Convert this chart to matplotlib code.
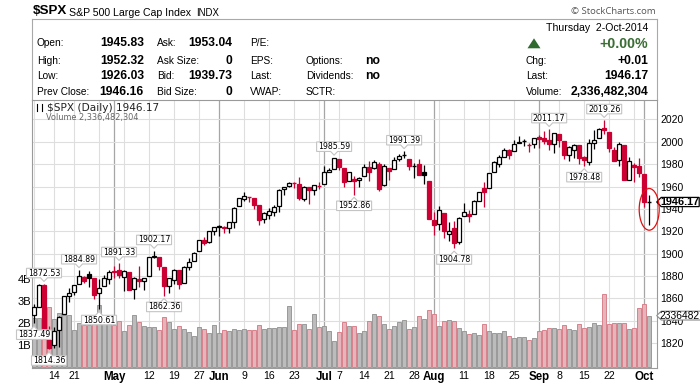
import matplotlib
matplotlib.use("Agg")
import matplotlib.pyplot as plt
import matplotlib.transforms as mtrans
from matplotlib.patches import Rectangle, Polygon, Ellipse
from matplotlib.lines import Line2D
import pandas as pd

plt.rcParams['font.family'] = ['Liberation Sans', 'DejaVu Sans']

# ---------------- data ----------------
holidays = ["2014-04-18", "2014-05-26", "2014-07-04", "2014-09-01"]
dates = [d for d in pd.bdate_range("2014-04-08", "2014-10-02")
         if d.strftime("%Y-%m-%d") not in holidays]

opens = [1845.48, 1852.64, 1872.28, 1830.65, 1818.18, 1831.45, 1846.01, 1861.73, 1865.79, 1872.57,
         1879.32, 1881.97, 1877.72, 1865.00, 1870.78, 1877.10, 1884.39, 1885.30, 1879.45, 1883.69,
         1868.53, 1877.39, 1875.27, 1880.03, 1896.75, 1897.13, 1888.16, 1871.19, 1876.66, 1884.88,
         1873.34, 1888.19, 1893.32, 1902.01, 1911.77, 1910.60, 1920.33, 1923.87, 1923.07, 1923.06,
         1928.52, 1942.41, 1948.97, 1950.34, 1949.37, 1943.35, 1930.80, 1934.84, 1937.15, 1942.73,
         1957.50, 1960.45, 1962.92, 1961.97, 1949.27, 1959.89, 1956.56, 1960.79, 1962.29, 1973.06,
         1975.88, 1984.22, 1976.39, 1965.10, 1966.67, 1965.76, 1969.86, 1977.36, 1976.35, 1979.75,
         1961.54, 1976.93, 1975.65, 1984.30, 1988.07, 1984.60, 1978.25, 1980.03, 1973.21, 1965.14,
         1929.80, 1926.62, 1936.34, 1917.29, 1923.03, 1910.35, 1933.43, 1935.73, 1935.60, 1947.41,
         1958.87, 1958.36, 1972.73, 1980.46, 1986.82, 1992.60, 1991.74, 1998.59, 2000.54, 1997.42,
         1998.45, 2004.07, 2003.57, 2001.67, 1998.00, 2007.17, 2000.73, 1988.41, 1992.85, 1996.74,
         1986.04, 1981.93, 1999.30, 2003.07, 2012.74, 2009.08, 1992.78, 1983.34, 1997.32, 1966.22,
         1978.96, 1978.21, 1971.44, 1945.83]
highs = [1854.95, 1872.53, 1872.53, 1835.07, 1834.19, 1844.02, 1862.31, 1869.63, 1871.89, 1884.89,
         1879.75, 1884.06, 1877.72, 1877.01, 1880.60, 1885.20, 1888.59, 1891.33, 1885.51, 1883.69,
         1878.83, 1889.07, 1878.57, 1897.13, 1902.17, 1897.13, 1888.16, 1878.28, 1886.00, 1884.88,
         1888.80, 1896.33, 1901.26, 1912.28, 1914.46, 1920.03, 1924.03, 1925.88, 1925.07, 1928.63,
         1941.74, 1949.44, 1955.55, 1950.86, 1949.37, 1943.35, 1937.30, 1941.15, 1943.69, 1957.74,
         1959.87, 1963.91, 1963.74, 1968.17, 1960.83, 1959.89, 1961.47, 1964.24, 1978.58, 1976.67,
         1985.59, 1984.22, 1976.39, 1972.83, 1969.84, 1968.67, 1979.85, 1982.52, 1983.94, 1981.80,
         1979.91, 1976.93, 1986.24, 1989.23, 1991.39, 1984.60, 1981.52, 1984.85, 1978.90, 1965.14,
         1937.35, 1942.92, 1936.34, 1927.91, 1928.89, 1932.38, 1944.90, 1939.20, 1948.41, 1955.23,
         1964.04, 1971.99, 1982.57, 1988.57, 1994.76, 1993.54, 2001.95, 2005.04, 2002.14, 1998.55,
         2003.38, 2006.12, 2009.28, 2011.17, 2007.71, 2007.17, 2001.01, 1996.66, 1997.65, 1996.74,
         1987.18, 2002.28, 2010.74, 2012.34, 2019.26, 2009.08, 1995.41, 1999.79, 1997.32, 1986.37,
         1981.28, 1985.17, 1971.44, 1952.32]
lows = [1837.49, 1852.38, 1833.08, 1814.36, 1815.80, 1816.29, 1846.01, 1856.72, 1863.18, 1872.57,
        1873.91, 1870.24, 1859.70, 1850.61, 1870.78, 1872.69, 1878.04, 1878.50, 1866.77, 1867.72,
        1859.79, 1870.05, 1867.02, 1880.03, 1896.06, 1885.77, 1862.36, 1864.82, 1872.42, 1868.14,
        1873.34, 1885.39, 1893.32, 1902.01, 1907.30, 1909.82, 1916.64, 1915.98, 1918.79, 1918.60,
        1922.93, 1942.41, 1947.16, 1946.08, 1940.08, 1925.78, 1927.62, 1930.91, 1933.55, 1936.86,
        1952.26, 1959.17, 1958.89, 1948.34, 1947.49, 1944.69, 1952.18, 1958.22, 1962.29, 1972.58,
        1975.88, 1974.88, 1959.46, 1965.10, 1952.86, 1959.63, 1969.86, 1965.34, 1975.67, 1955.59,
        1960.82, 1965.77, 1975.65, 1982.44, 1985.79, 1974.37, 1967.31, 1969.95, 1962.42, 1930.67,
        1916.37, 1921.20, 1913.77, 1911.45, 1904.78, 1909.01, 1933.43, 1928.29, 1935.60, 1947.41,
        1941.50, 1958.36, 1972.73, 1977.68, 1986.82, 1984.76, 1991.74, 1998.59, 1996.20, 1990.52,
        1994.65, 1994.85, 1998.14, 1992.44, 1990.10, 1995.60, 1984.61, 1982.99, 1985.93, 1980.26,
        1978.48, 1979.06, 1993.29, 2003.07, 2006.59, 1991.01, 1982.77, 1978.63, 1965.99, 1966.22,
        1964.04, 1968.96, 1941.72, 1926.03]
closes = [1851.96, 1872.18, 1833.08, 1815.69, 1830.61, 1842.98, 1862.31, 1864.85, 1871.89, 1879.55,
          1875.39, 1878.61, 1863.40, 1869.43, 1878.33, 1883.95, 1883.68, 1881.14, 1884.66, 1867.72,
          1878.21, 1875.63, 1878.48, 1896.65, 1897.45, 1888.53, 1870.85, 1877.86, 1885.08, 1872.83,
          1888.03, 1892.49, 1900.53, 1911.91, 1909.78, 1920.03, 1923.57, 1924.97, 1924.24, 1927.88,
          1940.46, 1949.44, 1951.27, 1950.79, 1943.89, 1930.11, 1936.16, 1937.78, 1941.99, 1956.98,
          1959.48, 1962.87, 1962.61, 1949.98, 1959.53, 1957.22, 1960.96, 1960.23, 1973.32, 1974.62,
          1985.44, 1977.65, 1963.71, 1972.83, 1964.68, 1967.57, 1977.10, 1973.28, 1981.57, 1958.12,
          1978.22, 1973.63, 1983.53, 1987.01, 1987.98, 1978.34, 1978.91, 1969.95, 1970.07, 1930.67,
          1925.15, 1938.99, 1920.21, 1920.24, 1909.57, 1931.59, 1936.92, 1933.75, 1946.72, 1955.18,
          1955.06, 1971.74, 1981.60, 1986.51, 1992.37, 1988.40, 1997.92, 2000.02, 2000.12, 1996.74,
          2003.37, 2002.28, 2000.72, 1997.65, 2007.71, 2001.54, 1988.44, 1995.69, 1997.45, 1985.54,
          1984.13, 1998.98, 2001.57, 2011.36, 2010.40, 1994.29, 1982.77, 1998.30, 1965.99, 1982.85,
          1977.80, 1972.29, 1946.16, 1946.17]
prev_close_before_first = 1845.04

volume_bn = [2.24, 2.24, 2.75, 2.75, 2.20, 2.45, 2.36, 2.36, 1.70, 2.00,
             1.90, 1.90, 2.00, 2.80, 2.00, 2.00, 1.90, 2.10, 1.65, 1.90,
             2.35, 2.06, 1.86, 1.83, 1.80, 1.68, 2.29, 2.06, 1.71, 1.86,
             1.71, 1.60, 1.41, 1.83, 1.71, 1.56, 1.91, 1.53, 1.68, 1.62,
             1.74, 1.68, 1.71, 1.68, 1.68, 1.91, 1.71, 1.76, 1.76, 1.83,
             1.80, 2.77, 1.68, 1.95, 1.95, 1.71, 2.41, 1.80, 1.86, 1.65,
             1.20, 1.59, 2.05, 1.85, 1.85, 1.53, 1.65, 2.10, 2.40, 2.33,
             1.94, 1.71, 1.86, 2.03, 2.12, 1.71, 1.83, 2.30, 2.17, 2.58,
             2.40, 1.86, 2.10, 2.15, 2.10, 1.76, 1.65, 1.48, 1.55, 1.44,
             1.95, 1.65, 1.53, 1.53, 1.65, 1.41, 1.30, 1.35, 1.35, 1.23,
             1.30, 1.65, 1.68, 1.76, 1.76, 1.71, 1.91, 1.71, 1.68, 1.95,
             1.76, 1.83, 1.98, 1.91, 3.32, 1.95, 1.98, 1.98, 1.98, 1.71,
             1.76, 2.67, 2.86, 2.336482304]
last_volume = 2336482304
ask_price, bid_price = 1953.04, 1939.73

tick_dates = ["2014-04-14", "2014-04-21", "2014-05-01", "2014-05-12", "2014-05-19", "2014-05-27",
              "2014-06-02", "2014-06-09", "2014-06-16", "2014-06-23", "2014-07-01", "2014-07-07",
              "2014-07-14", "2014-07-21", "2014-07-28", "2014-08-01", "2014-08-11", "2014-08-18",
              "2014-08-25", "2014-09-02", "2014-09-08", "2014-09-15", "2014-09-22", "2014-10-01"]
tick_labels = ["14", "21", "May", "12", "19", "27", "Jun", "9", "16", "23", "Jul", "7",
               "14", "21", "28", "Aug", "11", "18", "25", "Sep", "8", "15", "22", "Oct"]
month_names = ["May", "Jun", "Jul", "Aug", "Sep", "Oct"]

price_ticks = [1820, 1840, 1860, 1880, 1900, 1920, 1940, 1960, 1980, 2000, 2020]
volume_ticks = [1, 2, 3, 4]
volume_tick_labels = ["1B", "2B", "3B", "4B"]

high_labels = ["2014-04-10", "2014-04-22", "2014-05-02", "2014-05-13", "2014-07-03",
               "2014-07-24", "2014-09-04", "2014-09-19"]
low_labels = ["2014-04-08", "2014-04-11", "2014-04-28", "2014-05-15", "2014-07-10",
              "2014-08-07", "2014-09-15"]

# ---------------- layout ----------------
W, H = 700, 385
L, R, T, B = 32.3, 656.7, 100.0, 368.3
RED = "#cc0033"
fig = plt.figure(figsize=(W / 100, H / 100), dpi=100)
fig.patch.set_facecolor("white")

def fpt(x, y):
    return (x / W, 1 - y / H)

rect = [L / W, 1 - B / H, (R - L) / W, (B - T) / H]
ax_v = fig.add_axes(rect)
ax = fig.add_axes(rect, sharex=ax_v)
ax_v.set_zorder(1)
ax.set_zorder(2)
ax.patch.set_visible(False)

n = len(dates)
xs = list(range(n))
date_idx = {d.strftime("%Y-%m-%d"): i for i, d in enumerate(dates)}

ax.set_xlim(-0.34, 124.5)
px_per_pt = 1.1175
ax.set_ylim(2020 - (B - 119.5) / px_per_pt, 2020 + (119.5 - T) / px_per_pt)
ax_v.set_ylim(-1.3 / 22, (B - T - 1.3) / 22)

# gridlines (on bottom axes)
week_starts = []
prev_week = None
for i, d in enumerate(dates):
    wk = d.isocalendar()[1]
    if wk != prev_week:
        week_starts.append(i)
    prev_week = wk
month_starts = []
prev_m = None
for i, d in enumerate(dates):
    if d.month != prev_m and i > 0:
        month_starts.append(i)
    prev_m = d.month
for i in week_starts:
    if i not in month_starts:
        ax_v.axvline(i, color="#dedede", lw=0.8, zorder=0)
for i in month_starts:
    ax_v.axvline(i, color="#a6a6a6", lw=0.9, zorder=0)
blend = mtrans.blended_transform_factory(ax_v.transAxes, ax.transData)
for p in price_ticks:
    ax_v.add_line(Line2D([0, 1], [p, p], transform=blend, color="#dedede", lw=0.8, zorder=0))

# volume bars
prev = [prev_close_before_first] + closes[:-1]
down = [c < pc for c, pc in zip(closes, prev)]
vcolors = ["#e6b5bb" if dn else "#bcbcbc" for dn in down]
vedges = ["#d8828d" if dn else "#999999" for dn in down]
ax_v.bar(xs, volume_bn, width=0.86, color=vcolors, edgecolor=vedges, linewidth=0.7, zorder=2)

# candles
for i in xs:
    o, h, l, c = opens[i], highs[i], lows[i], closes[i]
    col = RED if down[i] else "black"
    ax.vlines(i, l, h, color=col, lw=0.9, zorder=3)
    if abs(c - o) < 0.7:
        ax.hlines((o + c) / 2, i - 0.38, i + 0.38, color=col, lw=1.0, zorder=4)
    else:
        hollow = c > o
        ax.add_patch(Rectangle((i - 0.36, min(o, c)), 0.72, abs(c - o),
                               facecolor="white" if hollow else col, edgecolor=col,
                               lw=0.9, zorder=4))

# axes styling
for s in ax.spines.values():
    s.set_color("#9a9a9a")
    s.set_linewidth(0.8)
for s in ax_v.spines.values():
    s.set_visible(False)
ax.yaxis.tick_right()
ax.set_yticks(price_ticks)
ax.set_yticklabels([str(p) for p in price_ticks])
ax.tick_params(axis="y", length=0, pad=2.4, labelsize=7.5, colors="black")
ax_v.yaxis.tick_left()
ax_v.set_yticks(volume_ticks)
ax_v.set_yticklabels(volume_tick_labels)
ax_v.tick_params(axis="y", length=0, pad=0.8, labelsize=8)
ax_v.tick_params(axis="x", length=0, labelbottom=False)
ax.set_xticks([date_idx[d] for d in tick_dates])
ax.set_xticklabels(tick_labels)
ax.tick_params(axis="x", length=0, pad=2.2, labelsize=7.6)
for lbl, t in zip(ax.get_xticklabels(), tick_labels):
    if t in month_names:
        lbl.set_fontweight("bold")
        lbl.set_fontsize(8.3)

# ---------------- value callouts ----------------
ident = mtrans.IdentityTransform()

def callout(i, val, above):
    tx, ty = ax.transData.transform((i, val))
    s = 1 if above else -1
    b0, b1 = ty + s * 6.5, ty + s * 16.0
    hw = 17.5
    verts = [(tx - hw, b0), (tx - 3.5, b0), (tx, ty + s * 2.8), (tx + 3.5, b0),
             (tx + hw, b0), (tx + hw, b1), (tx - hw, b1)]
    ax.add_patch(Polygon(verts, closed=True, transform=ident, facecolor="white",
                         edgecolor="#c4c4c4", lw=0.8, zorder=8, clip_on=False))
    ax.text(tx, (b0 + b1) / 2, f"{val:.2f}", transform=ident, ha="center", va="center",
            fontsize=5.7, family="DejaVu Sans", color="black", zorder=9, clip_on=False)

for d in high_labels:
    i = date_idx[d]
    callout(i, highs[i], True)
for d in low_labels:
    i = date_idx[d]
    callout(i, lows[i], False)

# last price tag
rx, yc = ax.transData.transform((124.5, closes[-1]))
rx = ax.transAxes.transform((1, 0))[0]
verts = [(rx, yc), (rx + 4.5, yc + 4.6), (W - 0.8, yc + 4.6), (W - 0.8, yc - 4.6), (rx + 4.5, yc - 4.6)]
ax.add_patch(Polygon(verts, closed=True, transform=ident, facecolor="white", edgecolor="black",
                     lw=0.9, zorder=10, clip_on=False))
ax.text(rx + 23.5, yc, f"{closes[-1]:.2f}", transform=ident, ha="center", va="center",
        fontsize=7.8, fontweight="bold", zorder=11, clip_on=False)

# volume tag
_, yv = ax_v.transData.transform((0, volume_bn[-1]))
verts = [(rx, yv), (rx + 4.5, yv + 4.4), (W + 2, yv + 4.4), (W + 2, yv - 4.4), (rx + 4.5, yv - 4.4)]
ax.add_patch(Polygon(verts, closed=True, transform=ident, facecolor="white", edgecolor="#8a8a8a",
                     lw=0.8, zorder=10, clip_on=False))
ax.text(rx + 3.2, yv, str(last_volume)[:7], transform=ident, ha="left", va="center",
        fontsize=7.4, zorder=11, clip_on=False)

# highlight ellipse on last bar
ax.add_patch(Ellipse((n - 1, 1939.6), 4.0, 37.3, facecolor="none", edgecolor="#e01010",
                     lw=0.9, zorder=12, clip_on=False))

# legend inside plot
ax.text(0.023, 0.97, f"$SPX (Daily) {closes[-1]:.2f}", transform=ax.transAxes, ha="left",
        va="center", fontsize=7.6, family="DejaVu Sans", color="#222222", zorder=12)
ax.text(0.022, 0.933, f"Volume {last_volume:,}", transform=ax.transAxes, ha="left",
        va="center", fontsize=5.9, family="DejaVu Sans", color="#666666", zorder=12)
# small icons
for (x0, y0, y1, ya, yb, fill) in [(37, 104.5, 111, 106, 109.5, "white"), (41.5, 103.5, 110.5, 105, 108, "black")]:
    fig.add_artist(Line2D([x0 / W, x0 / W], [1 - y1 / H, 1 - y0 / H], color="black", lw=0.8,
                          transform=fig.transFigure))
    fig.add_artist(Rectangle(fpt(x0 - 1.3, yb), 2.6 / W, (yb - ya) / H, transform=fig.transFigure,
                             facecolor=fill, edgecolor="black", lw=0.7))
for k, hgt in enumerate([4, 7, 5, 6]):
    fig.add_artist(Rectangle(fpt(36 + k * 2, 121), 1.5 / W, hgt / H, transform=fig.transFigure,
                             facecolor="#777777", edgecolor="none"))

# ---------------- header ----------------
hdr_col = "#a9a9a9"
for (xa, ya, xb, yb) in [(L, 19, R, 19), (L, 19, L, T), (R, 19, R, T)]:
    fig.add_artist(Line2D([xa / W, xb / W], [1 - ya / H, 1 - yb / H], color=hdr_col, lw=0.8,
                          transform=fig.transFigure))

def txt(x, y, s, ha="left", size=7.3, weight="normal", color="black", family=None):
    kw = {}
    if family:
        kw["family"] = family
    fig.text(x / W, 1 - y / H, s, ha=ha, va="center", fontsize=size, fontweight=weight,
             color=color, **kw)

txt(32.3, 11.5, "$SPX", size=9.6, weight="bold")
txt(69, 12.5, "S&P 500 Large Cap Index", size=7.6)
txt(196.5, 12.8, "INDX", size=6.9)
txt(656, 11.5, "© StockCharts.com", ha="right", size=6.8, color="#555555", family="Open Sans")

rows = [43.3, 60.5, 76.0, 91.8]
left_labels = ["Open:", "High:", "Low:", "Prev Close:"]
left_vals = [opens[-1], highs[-1], lows[-1], closes[-2]]
for y, lab, v in zip(rows, left_labels, left_vals):
    txt(36.7, y, lab)
    txt(144, y, f"{v:.2f}", ha="right", size=8.7, weight="bold")
mid_labels = ["Ask:", "Ask Size:", "Bid:", "Bid Size:"]
mid_vals = [f"{ask_price:.2f}", "0", f"{bid_price:.2f}", "0"]
for y, lab, v in zip(rows, mid_labels, mid_vals):
    txt(156.7, y, lab)
    txt(232.3, y, v, ha="right", size=8.7, weight="bold")
for y, lab in zip(rows, ["P/E:", "EPS:", "Last:", "VWAP:"]):
    txt(250, y, lab)
for y, lab in zip(rows[1:], ["Options:", "Dividends:", "SCTR:"]):
    txt(306, y, lab)
txt(365, rows[1], "no", size=8.7, weight="bold")
txt(365, rows[2], "no", size=8.7, weight="bold")

date_str = dates[-1].strftime("%A  %-d-%b-%Y")
txt(648.3, 28.3, date_str, ha="right", size=7.6)
chg = closes[-1] - closes[-2]
pct = chg / closes[-2] * 100
green = "#3b6e35"
fig.add_artist(Polygon([fpt(527.5, 48.3), fpt(540.5, 48.3), fpt(534, 38.3)], closed=True,
                       transform=fig.transFigure, facecolor="#2f6a2f", edgecolor="none"))
txt(648, 43.5, f"{pct:+.2f}%", ha="right", size=10.2, weight="bold", color=green)
txt(525.7, rows[1], "Chg:")
txt(648, rows[1], f"{chg:+.2f}", ha="right", size=8.7, weight="bold")
txt(525.7, rows[2], "Last:")
txt(648, rows[2], f"{closes[-1]:.2f}", ha="right", size=8.7, weight="bold")
txt(525.7, rows[3], "Volume:")
txt(648, rows[3], f"{last_volume:,}", ha="right", size=8.7, weight="bold")

fig.savefig("out.png", dpi=100, facecolor="white")
